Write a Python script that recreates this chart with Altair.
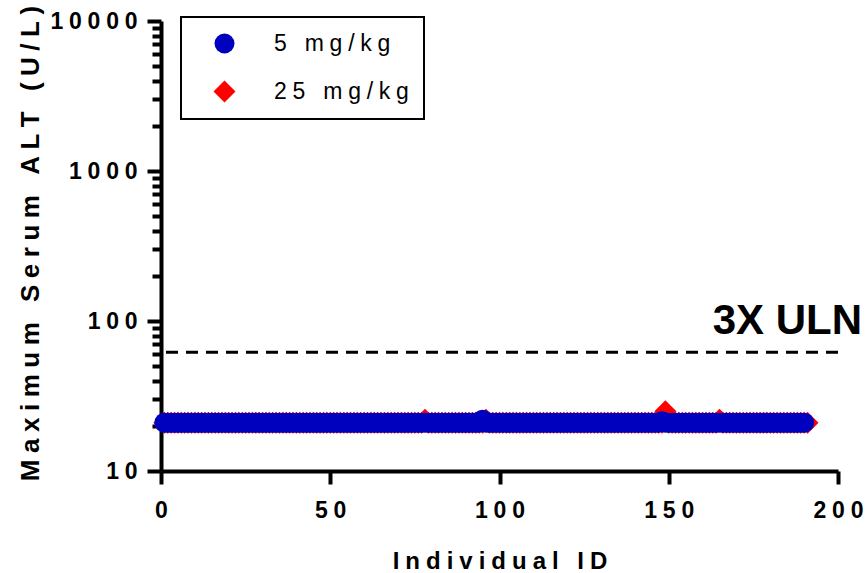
import altair as alt
import pandas as pd

SP = "\u2005"
WORD = SP + "\u00a0" + SP

def spaced(s):
    return WORD.join(SP.join(w) for w in s.split(" "))

# Individual IDs
ids_5 = list(range(1, 191))
ids_25 = list(range(1, 192))

# Maximum serum ALT (U/L), 5 mg/kg group (IDs 1..190)
alt_5 = [
    21, 21, 21, 21, 21, 21, 21, 21, 21, 21,
    21, 21, 21, 21, 21, 21, 21, 21, 21, 21,
    21, 21, 21, 21, 21, 21, 21, 21, 21, 21,
    21, 21, 21, 21, 21, 21, 21, 21, 21, 21,
    21, 21, 21, 21, 21, 21, 21, 21, 21, 21,
    21, 21, 21, 21, 21, 21, 21, 21, 21, 21,
    21, 21, 21, 21, 21, 21, 21, 21, 21, 21,
    21, 21, 21, 21, 21, 21, 21, 21, 21, 21,
    21, 21, 21, 21, 21, 21, 21, 21, 21, 21,
    21, 21, 21, 21, 22, 21, 21, 21, 21, 21,
    21, 21, 21, 21, 21, 21, 21, 21, 21, 21,
    21, 21, 21, 21, 21, 21, 21, 21, 21, 21,
    21, 21, 21, 21, 21, 21, 21, 21, 21, 21,
    21, 21, 21, 21, 21, 21, 21, 21, 21, 21,
    21, 21, 21, 21, 21, 21, 21, 21.5, 21, 21,
    21, 21, 21, 21, 21, 21, 21, 21, 21, 21,
    21, 21, 21, 21, 21, 21, 21, 21, 21, 21,
    21, 21, 21, 21, 21, 21, 21, 21, 21, 21,
    21, 21, 21, 21, 21, 21, 21, 21, 21, 21,
]

# Maximum serum ALT (U/L), 25 mg/kg group (IDs 1..191)
alt_25 = [
    21, 21, 21, 21, 21, 21, 21, 21, 21, 21,
    21, 21, 21, 21, 21, 21, 21, 21, 21, 21,
    21, 21, 21, 21, 21, 21, 21, 21, 21, 21,
    21, 21, 21, 21, 21, 21, 21, 21, 21, 21,
    21, 21, 21, 21, 21, 21, 21, 21, 21, 21,
    21, 21, 21, 21, 21, 21, 21, 21, 21, 21,
    21, 21, 21, 21, 21, 21, 21, 21, 21, 21,
    21, 21, 21, 21, 21, 21, 21, 22, 21, 21,
    21, 21, 21, 21, 21, 21, 21, 21, 21, 21,
    21, 21, 21, 21, 21, 22, 21, 21, 21, 21,
    21, 21, 21, 21, 21, 21, 21, 21, 21, 21,
    21, 21, 21, 21, 21, 21, 21, 21, 21, 21,
    21, 21, 21, 21, 21, 21, 21, 21, 21, 21,
    21, 21, 21, 21, 21, 21, 21, 21, 21, 21,
    21, 21, 21, 21, 21, 21, 21, 21, 25, 21,
    21, 21, 21, 21, 21, 21, 21, 21, 21, 21,
    21, 21, 21, 21, 22, 21, 21, 21, 21, 21,
    21, 21, 21, 21, 21, 21, 21, 21, 21, 21,
    21, 21, 21, 21, 21, 21, 21, 21, 21, 21,
    21,
]

groups = ["5 mg/kg", "25 mg/kg"]
colors = ["#0000BF", "#FF0000"]
shapes = ["circle", "diamond"]
sizes = [400, 484]

uln3 = 62
uln_label = "3X ULN"

x_ticks = [0, 50, 100, 150, 200]
y_major = [10, 100, 1000, 10000]
y_minor = [20, 30, 40, 50, 60, 70, 80, 90,
           200, 300, 400, 500, 600, 700, 800, 900,
           2000, 3000, 4000, 5000, 6000, 7000, 8000, 9000]

rows = []
for i, v in zip(ids_25, alt_25):
    rows.append({"id": i, "alt": v, "group": "25 mg/kg"})
for i, v in zip(ids_5, alt_5):
    rows.append({"id": i, "alt": v, "group": "5 mg/kg"})
df = pd.DataFrame(rows)

FONT = "Liberation Sans"
label_expr = "join(split(datum.label, ''), '" + SP + "')"
legend_expr = "replace(join(split(datum.label, ''), '" + SP + "'), / /g, '\u00a0')"

yscale = alt.Scale(type="log", domain=[10, 10000], nice=False)
xscale = alt.Scale(domain=[0, 200], nice=False)

legend = alt.Legend(
    title=None, orient="none", legendX=20, legendY=-4,
    strokeColor="black", padding=15, symbolOffset=17, labelOffset=38,
    rowPadding=24, labelFontSize=23, labelFont=FONT, labelColor="black",
    symbolStrokeWidth=0, symbolOpacity=1, labelExpr=legend_expr,
)

points = alt.Chart(df).mark_point(filled=True, opacity=1, strokeWidth=0).encode(
    x=alt.X("id:Q", scale=xscale, axis=alt.Axis(
        values=x_ticks, title=spaced("Individual ID"), orient="bottom",
        tickSize=13, labelPadding=15, labelExpr=label_expr, labelFlush=False,
        titleBaseline="alphabetic", titleY=97, titleX=338.5, titleFontSize=24,
    )),
    y=alt.Y("alt:Q", scale=yscale, axis=alt.Axis(
        values=y_major, format="d", orient="left", labelFlush=False,
        title=spaced("Maximum Serum ALT (U/L)"),
        tickSize=14, labelPadding=10, labelExpr=label_expr,
        titleAngle=270, titleBaseline="alphabetic", titleX=-123, titleY=222,
        titleAlign="center",
    )),
    color=alt.Color("group:N", scale=alt.Scale(domain=groups, range=colors), legend=legend),
    shape=alt.Shape("group:N", scale=alt.Scale(domain=groups, range=shapes), legend=legend),
    size=alt.Size("group:N", scale=alt.Scale(domain=groups, range=sizes), legend=legend),
)

rule = alt.Chart(pd.DataFrame({"v": [uln3]})).mark_rule(
    color="black", strokeWidth=3, strokeDash=[12, 8]
).encode(
    y=alt.Y("v:Q", scale=yscale, axis=alt.Axis(
        values=y_minor, labels=False, title=None, domain=False,
        tickSize=9, orient="left", grid=False,
    )),
)

label = alt.Chart(pd.DataFrame({"x": [200], "v": [uln3], "t": [uln_label]})).mark_text(
    align="right", baseline="alphabetic", dx=24, dy=-18,
    font=FONT, fontSize=42, fontWeight="bold", color="black",
).encode(
    x=alt.X("x:Q", scale=xscale, axis=None),
    y=alt.Y("v:Q", scale=yscale, axis=None),
    text="t:N",
)

chart = alt.layer(points, rule, label).resolve_axis(
    x="independent", y="independent"
).properties(
    width=677, height=450, autosize="none",
    padding={"left": 161, "top": 21, "right": 27, "bottom": 102},
    background="white",
).configure_view(stroke=None).configure_axis(
    grid=False, domainColor="black", domainWidth=4, tickColor="black",
    tickWidth=4, labelFont=FONT, labelFontSize=23, labelFontWeight="bold",
    labelColor="black", titleFont=FONT, titleFontSize=26, titleFontWeight="bold",
    titleColor="black",
).configure_legend(strokeWidth=2)

chart.save("out.html", embed_options={"renderer": "svg", "actions": False})
